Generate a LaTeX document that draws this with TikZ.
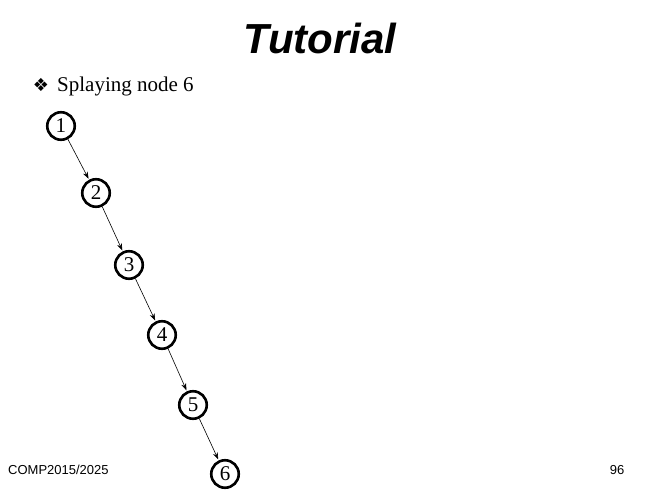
\documentclass[tikz,border=0pt]{standalone}
\usepackage{fontspec}
\setmainfont{Liberation Serif}
\setsansfont{Liberation Sans}
\newfontfamily\symfont{DejaVu Sans}
\usetikzlibrary{arrows.meta,positioning}

\begin{document}
\begin{tikzpicture}[
    x=1pt, y=-1pt,
    node distance=70pt,
    >={Stealth[length=7pt,width=5pt]},
    key/.style={
		circle,
		draw=black,
		line width=2.6pt,
		inner sep=0pt,
		minimum size=27.5pt,
		font=\fontsize{21}{21}\selectfont
	},
	link/.style={
		->,
		line width=0.6pt,
		shorten >=1pt
	}
  ]
 \useasboundingbox (0,0) rectangle (654,498);

 % // title and bullet
 \node [font=\sffamily\bfseries\itshape\fontsize{42}{42}\selectfont] (title) at (320,38) {Tutorial};
 \node [font=\symfont\fontsize{18}{18}\selectfont, inner sep=0pt] (bullet) at (41,85) {❖};
 \node [anchor=west, font=\fontsize{21}{21}\selectfont, inner sep=0pt] (caption) at (57,86) {Splaying node 6};

 % // the chain
 \node [key] (n1) at (61,126) {1};
 \node [key, below of=n1, xshift=35pt, yshift=3pt] (n2) {2};
 \node [key, below of=n2, xshift=33pt, yshift=-2pt] (n3) {3};
 \node [key, below of=n3, xshift=33pt] (n4) {4};
 \node [key, below of=n4, xshift=31pt] (n5) {5};
 \node [key, below of=n5, xshift=32pt, yshift=1pt] (n6) {6};

 \draw [link] (n1) -- (n2);
 \draw [link] (n2) -- (n3);
 \draw [link] (n3) -- (n4);
 \draw [link] (n4) -- (n5);
 \draw [link] (n5) -- (n6);

 % // footer
 \node [anchor=west, inner sep=0pt, font=\sffamily\fontsize{13}{13}\selectfont] (course) at (8,470) {COMP2015/2025};
 \node [inner sep=0pt, font=\sffamily\fontsize{13}{13}\selectfont] (page) at (617,470) {96};
\end{tikzpicture}
\end{document}
